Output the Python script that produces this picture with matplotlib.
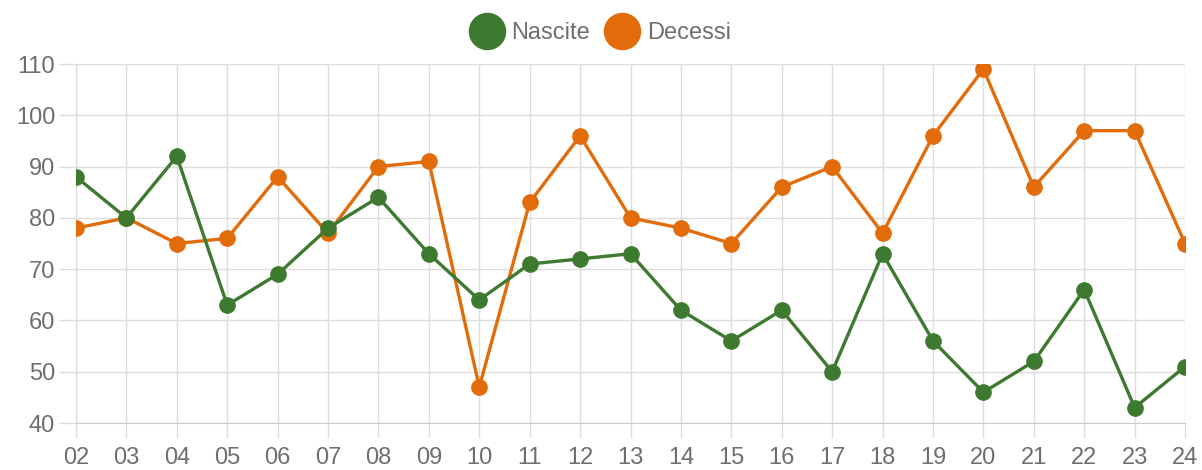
import matplotlib.pyplot as plt
from matplotlib.lines import Line2D

# ---------- data ----------
labels = ['02', '03', '04', '05', '06', '07', '08', '09', '10', '11', '12', '13',
          '14', '15', '16', '17', '18', '19', '20', '21', '22', '23', '24']
nascite = [88, 80, 92, 63, 69, 78, 84, 73, 64, 71, 72, 73,
           62, 56, 62, 50, 73, 56, 46, 52, 66, 43, 51]
decessi = [78, 80, 75, 76, 88, 77, 90, 91, 47, 83, 96, 80,
           78, 75, 86, 90, 77, 96, 109, 86, 97, 97, 75]

green = '#3d7a2f'
orange = '#e26b0a'
grey = '#6e6e6e'

plt.rcParams['font.family'] = ['Liberation Sans', 'DejaVu Sans']

fig = plt.figure(figsize=(12.02, 4.70), dpi=100)
ax = fig.add_axes([0.0632, 0.1, 0.9227, 0.7638])

x = range(len(labels))
ax.plot(x, decessi, color=orange, linewidth=2.4, marker='o', markersize=11, zorder=3)
ax.plot(x, nascite, color=green, linewidth=2.4, marker='o', markersize=11, zorder=4)

ax.set_xlim(0, len(labels) - 1)
ax.set_ylim(40, 110)
ax.set_yticks(range(40, 111, 10))
ax.set_xticks(list(x))
ax.set_xticklabels(labels)

ax.grid(True, color='#dddddd', linewidth=1)
ax.set_axisbelow(True)
for s in ['top', 'right']:
    ax.spines[s].set_visible(False)
ax.spines['left'].set_color('#dddddd')
ax.spines['bottom'].set_color('#cccccc')
ax.tick_params(axis='both', colors='#dddddd', labelcolor=grey, labelsize=17,
               width=1)
ax.tick_params(axis='y', length=12, pad=3)
ax.tick_params(axis='x', length=11, pad=6)

# legend (chart.js style, big dots)
handles = [Line2D([], [], color=green, marker='o', linestyle='', markersize=26),
           Line2D([], [], color=orange, marker='o', linestyle='', markersize=26)]
fig.legend(handles, ['Nascite', 'Decessi'], loc='center', bbox_to_anchor=(0.499, 0.929),
           ncol=2, frameon=False, fontsize=17, labelcolor=grey,
           handlelength=1.5, handletextpad=0.3, columnspacing=0.6)

plt.savefig('out.png', dpi=100)
